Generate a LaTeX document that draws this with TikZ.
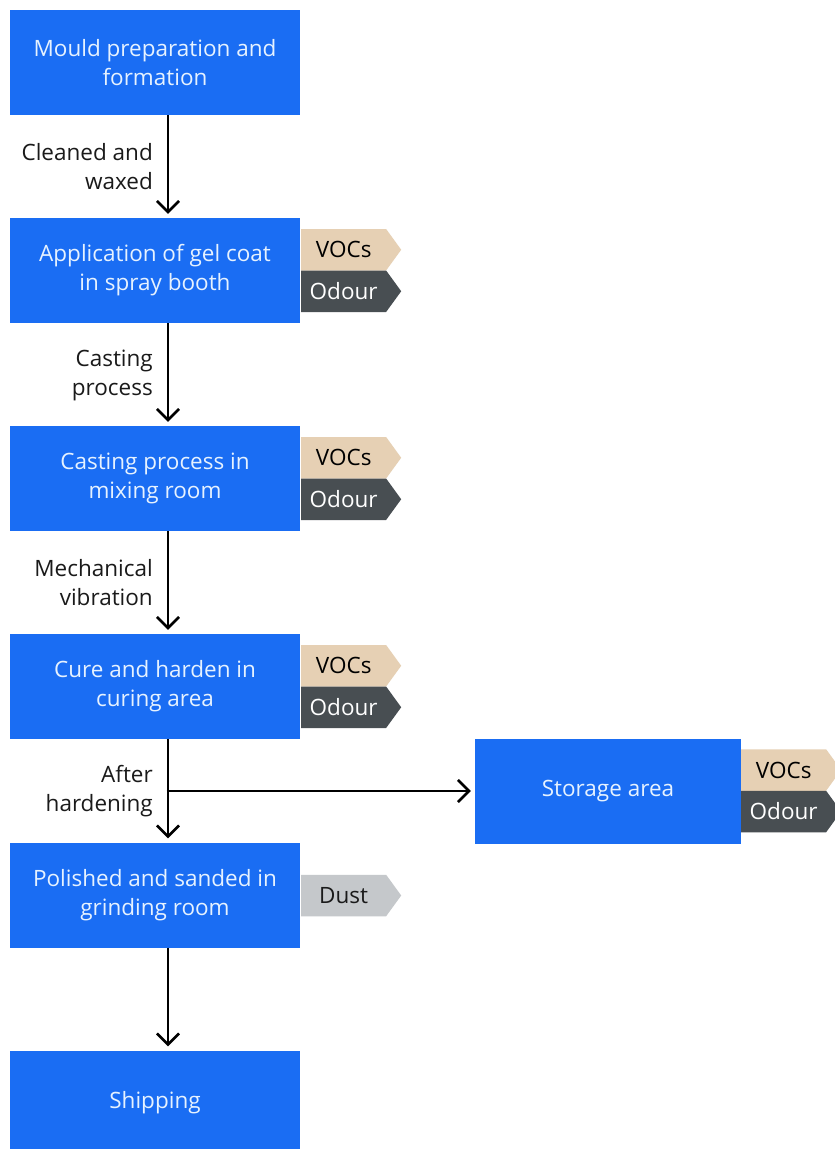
\documentclass[tikz,border=0pt]{standalone}
\usepackage{fontspec}
\setmainfont{Open Sans}
\usetikzlibrary{arrows.meta,shapes.symbols}
\definecolor{boxblue}{HTML}{1A6DF3}
\definecolor{boxtext}{HTML}{E6F2FF}
\definecolor{vocfill}{HTML}{E6D0B4}
\definecolor{odourfill}{HTML}{484E52}
\definecolor{dustfill}{HTML}{C5C8CB}
\definecolor{labeltext}{HTML}{1A1A1A}
\tikzset{
  box/.style={rectangle, fill=boxblue, text=boxtext, minimum width=290pt, minimum height=105pt,
    align=center, inner sep=0pt, font=\fontsize{22.5}{29}\selectfont},
  tag/.style={signal, signal to=east, signal pointer angle=108, minimum width=100pt,
    minimum height=41.5pt, inner sep=0pt, anchor=west, font=\fontsize{22.5}{24}\selectfont},
  voc/.style={tag, fill=vocfill, text=black},
  odour/.style={tag, fill=odourfill, text=white},
  dust/.style={tag, fill=dustfill, text=labeltext},
  lbl/.style={anchor=east, align=right, text=labeltext, inner sep=0pt, font=\fontsize{22.5}{29}\selectfont},
  arr/.style={line width=2.6pt, -{Straight Barb[length=11pt,width=22pt]}, shorten >=4pt},
}
\begin{document}
\begin{tikzpicture}[x=1pt,y=-1pt]
\useasboundingbox (0,0) rectangle (835,1149);
\fill[white] (0,0) rectangle (835,1149);
% main column
\node[box] (b1) at (155,62.5) {Mould preparation and\\formation};
\node[box] (b2) at (155,270.5) {Application of gel coat\\in spray booth};
\node[box] (b3) at (155,478.5) {Casting process in\\mixing room};
\node[box] (b4) at (155,686.5) {Cure and harden in\\curing area};
\node[box] (b5) at (155,895) {Polished and sanded in\\grinding room};
\node[box] (b6) at (155,1103) {Shipping};
\node[box, minimum width=266pt, minimum height=105pt] (st) at (608,791) {Storage area};
% tags
\node[voc] (v2) at (301,249.75) {VOCs\hspace{6pt}};
\node[odour] (o2) at (301,291.25) {Odour\hspace{6pt}};
\node[voc] (v3) at (301,457.75) {VOCs\hspace{6pt}};
\node[odour] (o3) at (301,499.25) {Odour\hspace{6pt}};
\node[voc] (v4) at (301,665.75) {VOCs\hspace{6pt}};
\node[odour] (o4) at (301,707.25) {Odour\hspace{6pt}};
\node[dust] (d5) at (301,895.5) {Dust\hspace{6pt}};
\node[voc] (vs) at (741,770) {VOCs\hspace{6pt}};
\node[odour] (os) at (741,811.5) {Odour\hspace{6pt}};
% labels
\node[lbl] (l1) at (153,167) {Cleaned and\\waxed};
\node[lbl] (l2) at (153,375) {Casting\\process};
\node[lbl] (l3) at (153,583) {Mechanical\\vibration};
\node[lbl] (l4) at (153,791.5) {After\\hardening};
% connectors (arrow column at x = 168)
\draw[arr] ([xshift=13pt]b1.south) -- ([xshift=13pt]b2.north);
\draw[arr] ([xshift=13pt]b2.south) -- ([xshift=13pt]b3.north);
\draw[arr] ([xshift=13pt]b3.south) -- ([xshift=13pt]b4.north);
\draw[arr] ([xshift=13pt]b4.south) -- ([xshift=13pt]b5.north);
\draw[arr] ([xshift=13pt]b5.south) -- ([xshift=13pt]b6.north);
\coordinate (j) at ([xshift=13pt]b4.south |- st.west);
\draw[arr] ([xshift=-1.3pt]j) -- (st.west);
\end{tikzpicture}
\end{document}
